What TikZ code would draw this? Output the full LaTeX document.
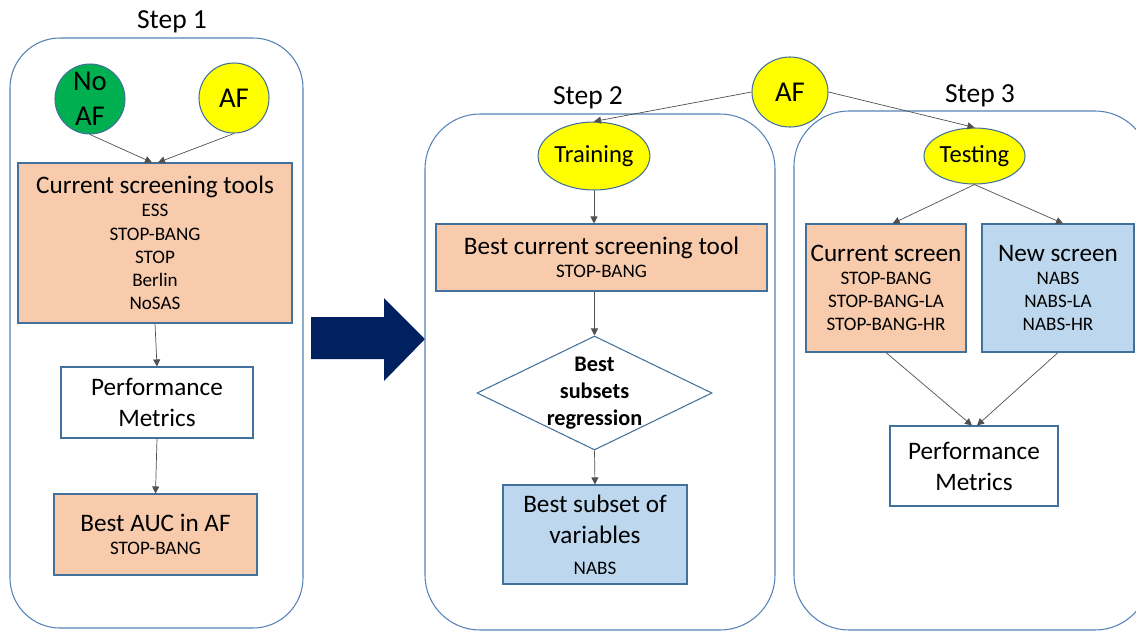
\documentclass[tikz,border=0pt]{standalone}
\usepackage{fontspec}
\setmainfont{Carlito}
\usepackage{xcolor}
\usepackage{tikz}
\usetikzlibrary{arrows.meta,shapes.geometric}
\definecolor{edgec}{RGB}{65,113,156}
\definecolor{framec}{RGB}{84,130,182}
\definecolor{peachc}{RGB}{248,203,173}
\definecolor{bluec}{RGB}{189,215,238}
\definecolor{yellowc}{RGB}{255,255,0}
\definecolor{greenc}{RGB}{0,176,80}
\definecolor{navyc}{RGB}{0,32,96}
\definecolor{arrowc}{RGB}{80,80,80}
\newcommand{\bigfs}{\fontsize{21.5}{26.5}\selectfont}
\newcommand{\smallfs}{\fontsize{16.3}{19.8}\selectfont}
\newcommand{\titlefs}{\fontsize{23.5}{28}\selectfont}

\begin{document}
\begin{tikzpicture}[x=0.03cm,y=-0.03cm,>={Triangle[length=6pt,width=6pt]},
  frame/.style={draw=framec,line width=0.9pt,rounded corners=1.5cm},
  steptitle/.style={anchor=base,font=\titlefs},
  flowbox/.style={draw=edgec,line width=0.9pt,inner sep=0pt,align=center},
  peachbox/.style={flowbox,fill=peachc,font=\smallfs},
  bluebox/.style={flowbox,fill=bluec,font=\smallfs},
  plainbox/.style={flowbox,fill=white,font=\bigfs},
  circnode/.style={circle,draw=edgec,line width=0.9pt,minimum size=2.1cm,inner sep=0pt,align=center,font=\fontsize{24.5}{30}\selectfont},
  ovalnode/.style={ellipse,draw=edgec,line width=0.9pt,fill=yellowc,inner sep=0pt,font=\fontsize{21}{25}\selectfont},
  flow/.style={->,draw=arrowc,line width=0.6pt}]
\useasboundingbox (0,0) rectangle (1136,633);
\clip (0,0) rectangle (1136,633);
% step 1
\draw[frame] (10,38) rectangle (303,628);
\node[steptitle] (title1) at (172,28) {Step 1};
\node[circnode,fill=greenc] (noaf) at (90,99) {No\\AF};
\node[circnode,fill=yellowc] (af1) at (234,98) {AF};
\node[peachbox,minimum width=8.22cm,minimum height=4.8cm] (tools) at (155,243)
  {{\bigfs Current screening tools}\\ESS\\STOP-BANG\\STOP\\Berlin\\NoSAS};
\node[plainbox,minimum width=5.76cm,minimum height=2.13cm] (perf1) at (157,402.5) {Performance\\Metrics};
\node[peachbox,minimum width=6.09cm,minimum height=2.43cm] (auc) at (155.5,534.5) {{\bigfs Best AUC in AF}\\STOP-BANG};
\draw[flow] (noaf.south) -- ([xshift=-0.09cm]tools.north);
\draw[flow] (af1.south) -- ([xshift=0.09cm]tools.north);
\draw[flow] (tools.south) -- (perf1.north);
\draw[flow] (perf1.south) -- (auc.north);
% big arrow between step 1 and step 2
\fill[navyc] (311,317) -- (384,317) -- (384,298) -- (425,339) -- (384,381) -- (384,359) -- (311,359) -- cycle;
% step 2
\draw[frame,rounded corners=1.65cm] (425,114) rectangle (775,630);
\node[steptitle] (title2) at (588,104) {Step 2};
\node[ovalnode,minimum width=3cm,minimum height=2.04cm] (training) at (594,156) {Training};
\node[peachbox,minimum width=9.93cm,minimum height=2.01cm] (besttool) at (601.5,257.5)
  {{\bigfs Best current screening tool}\\STOP-BANG};
\node[diamond,draw=edgec,line width=0.9pt,fill=white,minimum width=7.05cm,minimum height=3.42cm,inner sep=0pt] (subreg) at (594.5,393) {};
\node[align=center,font=\fontsize{19}{23}\selectfont\bfseries] (subregtxt) at (subreg) {Best\\subsets\\regression};
\node[bluebox,font=\bigfs,minimum width=5.52cm,minimum height=2.97cm] (subset) at (595,534.5)
  {Best subset of\\variables\\{\smallfs NABS}};
\draw[flow] (training.south) -- (training.south |- besttool.north);
\draw[flow] (besttool.south -| subreg.north) -- (subreg.north);
\draw[flow] (subreg.south) -- (subset.north);
% step 3
\draw[frame,rounded corners=1.65cm] (794,111) rectangle (1150,630);
\node[steptitle] (title3) at (980,102) {Step 3};
\node[ovalnode,minimum width=3.03cm,minimum height=1.68cm] (testing) at (974.5,156) {Testing};
\node[peachbox,minimum width=4.8cm,minimum height=3.84cm] (curscreen) at (886,288)
  {{\bigfs Current screen}\\STOP-BANG\\STOP-BANG-LA\\STOP-BANG-HR};
\node[bluebox,minimum width=4.56cm,minimum height=3.84cm] (newscreen) at (1058,288)
  {{\bigfs New screen}\\NABS\\NABS-LA\\NABS-HR};
\node[plainbox,minimum width=5.04cm,minimum height=2.4cm] (perf3) at (974,466) {Performance\\Metrics};
\draw[flow] (testing.south) -- ([xshift=0.2cm]curscreen.north);
\draw[flow] (testing.south) -- ([xshift=0.15cm]newscreen.north);
\draw[flow] (curscreen.south) -- ([xshift=-0.06cm]perf3.north);
\draw[flow] (newscreen.south) -- ([xshift=0.09cm]perf3.north);
% shared AF input
\node[ovalnode,font=\fontsize{24.5}{30}\selectfont,minimum width=2.28cm,minimum height=2.1cm] (aftop) at (790,92) {AF};
\draw[flow] (aftop.west) -- (training.north);
\draw[flow] (aftop.east) -- (testing.north);
\end{tikzpicture}
\end{document}
